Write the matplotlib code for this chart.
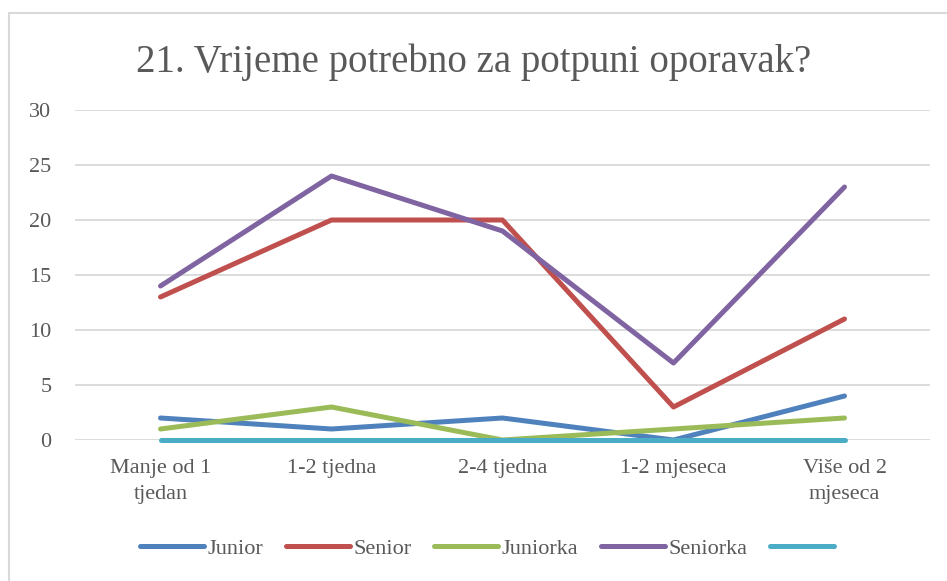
import matplotlib.pyplot as plt
from matplotlib.lines import Line2D
from matplotlib.patches import Rectangle

plt.rcParams.update({
    "font.family": ["Liberation Serif", "DejaVu Serif"],
    "font.size": 13,
})

categories = ["Manje od 1\ntjedan", "1-2 tjedna", "2-4 tjedna", "1-2 mjeseca", "Više od 2\nmjeseca"]
junior = [2, 1, 2, 0, 4]
senior = [13, 20, 20, 3, 11]
juniorka = [1, 3, 0, 1, 2]
seniorka = [14, 24, 19, 7, 23]
blank = [0, 0, 0, 0, 0]

series_names = ["Junior", "Senior", "Juniorka", "Seniorka", ""]
series_colors = ["#4F81BD", "#C0504D", "#9BBB59", "#8064A2", "#4BACC6"]
yticks = [0, 5, 10, 15, 20, 25, 30]
title = "21. Vrijeme potrebno za potpuni oporavak?"

text_col = "#595959"

fig = plt.figure(figsize=(9.47, 5.81), dpi=100)
# chart frame (light grey, cropped at right/bottom)
fig.patches.append(Rectangle((9 / 947, -0.05), 1.1, 1 - 13 / 581 + 0.05,
                             transform=fig.transFigure, fc="white",
                             ec="#D9D9D9", lw=1.5, zorder=-10))

ax = fig.add_axes([75 / 947, 1 - 440 / 581, 855 / 947, 330 / 581])
ax.set_facecolor("none")

x = list(range(len(categories)))
handles = []
for vals, name, col in zip([junior, senior, juniorka, seniorka, blank],
                           series_names, series_colors):
    ax.plot(x, vals, color=col, lw=3.6, solid_capstyle="round",
            solid_joinstyle="round", label=name, clip_on=False)
    handles.append(Line2D([], [], color=col, lw=3.6, solid_capstyle="round"))

ax.set_xlim(-0.5, len(categories) - 0.5)
ax.set_ylim(0, 30)
ax.set_yticks(yticks)
ax.set_xticks(x)
ax.set_xticklabels(categories, color=text_col, fontsize=16, linespacing=1.45)
ax.tick_params(axis="y", length=0, pad=17, labelcolor=text_col, labelsize=16)
ax.tick_params(axis="x", length=0, pad=14)
ax.grid(axis="y", color="#D9D9D9", lw=1.3)
ax.set_axisbelow(True)
for s in ax.spines.values():
    s.set_visible(False)

fig.text(0.5, 1 - 62 / 581, title, ha="center", va="center",
         fontsize=28, color=text_col)

fig.legend(handles, series_names, loc="center", bbox_to_anchor=(0.516, 1 - 549 / 581),
           ncol=5, frameon=False, handlelength=2.9, handletextpad=0.15,
           columnspacing=1.0, fontsize=16, labelcolor=text_col)

fig.savefig("out.png", dpi=100)
